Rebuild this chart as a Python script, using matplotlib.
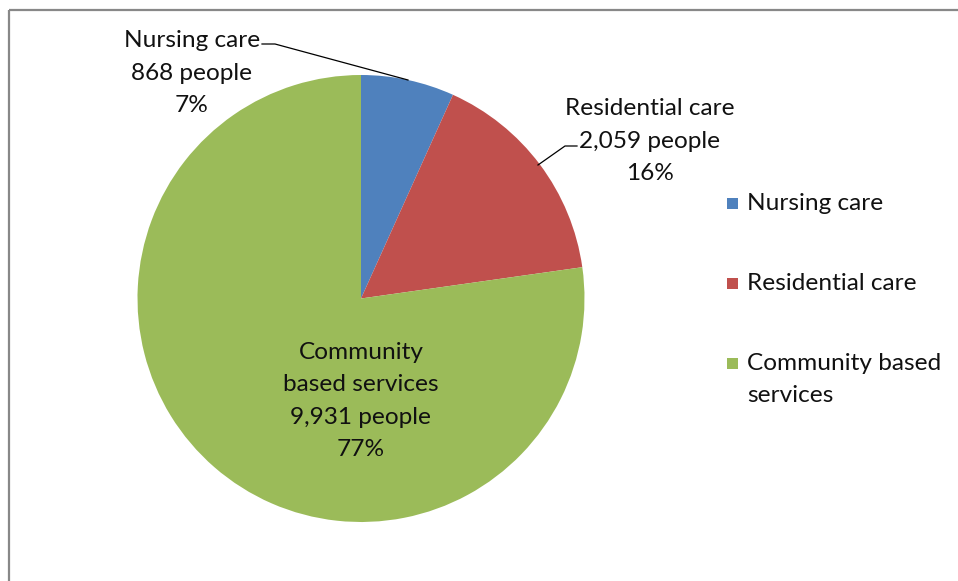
import matplotlib
matplotlib.use("Agg")
import matplotlib.pyplot as plt
from matplotlib.patches import Rectangle

categories = ["Nursing care", "Residential care", "Community based services"]
people = [868, 2059, 9931]
percent_labels = ["7%", "16%", "77%"]
colors = ["#4F81BD", "#C0504D", "#9BBB59"]

W, H = 958, 581
fig = plt.figure(figsize=(W / 100, H / 100), dpi=100)
ax = fig.add_axes([0, 0, 1, 1])
ax.set_xlim(0, W)
ax.set_ylim(0, H)
ax.set_aspect("equal")
ax.axis("off")

def Y(y):
    return H - y

FONT = "Lato"
FS = 17.6
TXT = "#111111"
LS = 1.67

cx, cy, r = 361, 298.5, 223.5
wedges, _ = ax.pie(people, colors=colors, startangle=90, counterclock=False,
                   center=(cx, Y(cy)), radius=r, frame=True,
                   wedgeprops=dict(linewidth=0))
ax.set_xlim(0, W)
ax.set_ylim(0, H)
ax.axis("off")

# border
ax.plot([9, W + 5], [Y(10), Y(10)], color="#888888", lw=1.6, solid_capstyle="butt")
ax.plot([9, 9], [Y(10), Y(H + 5)], color="#888888", lw=1.6, solid_capstyle="butt")

def fmt(n):
    return f"{n:,}"

labels = [
    f"{categories[0]}\n{fmt(people[0])} people\n{percent_labels[0]}",
    f"{categories[1]}\n{fmt(people[1])} people\n{percent_labels[1]}",
    f"Community\nbased services\n{fmt(people[2])} people\n{percent_labels[2]}",
]
label_pos = [(192, 73), (650, 141), (361, 401)]
for lab, (x, y) in zip(labels, label_pos):
    ax.text(x, Y(y), lab, ha="center", va="center", fontsize=FS, family=FONT,
            color=TXT, linespacing=LS)

# leader lines
ax.plot([262, 275, 408], [Y(44), Y(44), Y(80)], color="black", lw=0.9)
ax.plot([577, 565, 538], [Y(146), Y(146), Y(165)], color="black", lw=0.9)

# legend
leg_rows = [203, 283, 363]
leg_lines = [["Nursing care"], ["Residential care"], ["Community based", "services"]]
for c, lines, y in zip(colors, leg_lines, leg_rows):
    ax.add_patch(Rectangle((727, Y(y) - 5.5), 11, 11, color=c, lw=0))
    for i, t in enumerate(lines):
        ax.text(747, Y(y + 32.5 * i), t, ha="left", va="center", fontsize=FS,
                family=FONT, color=TXT)

fig.savefig("out.png", dpi=100)
